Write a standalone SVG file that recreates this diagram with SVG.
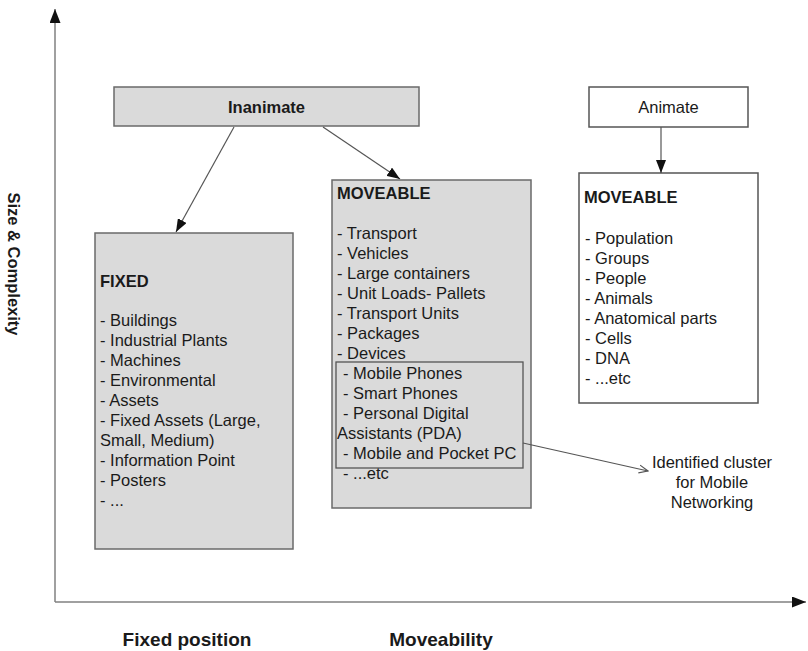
<svg xmlns="http://www.w3.org/2000/svg" width="808" height="651" viewBox="0 0 808 651">
<defs>
<style>
text{font-family:"Liberation Sans",Arial,sans-serif;fill:#1a1a1a;font-size:16.5px}
.b{font-weight:bold}
.grey{fill:#dadada;stroke:#6a6a6a;stroke-width:1.5}
.white{fill:#ffffff;stroke:#555;stroke-width:1.5}
.axis{stroke:#808080;stroke-width:1.5;fill:none}
.conn{stroke:#555;stroke-width:1.2;fill:none}
.mid{text-anchor:middle}
</style>
<marker id="ah" markerUnits="userSpaceOnUse" markerWidth="14" markerHeight="10" refX="13" refY="5" orient="auto">
<path d="M0,0 L13,5 L0,10 z" fill="#111"/>
</marker>
<marker id="axh" markerUnits="userSpaceOnUse" markerWidth="15" markerHeight="11" refX="14" refY="5.5" orient="auto">
<path d="M0,0 L14,5.5 L0,11 z" fill="#111"/>
</marker>
<marker id="open" markerUnits="userSpaceOnUse" markerWidth="10" markerHeight="10" refX="9" refY="5" orient="auto">
<path d="M0,1 L9,5 L0,9" fill="none" stroke="#555" stroke-width="1.2"/>
</marker>
</defs>

<g id="axes">
<line class="axis" x1="55" y1="602" x2="55" y2="9" marker-end="url(#axh)"/>
<line class="axis" x1="55" y1="602" x2="806" y2="602" marker-end="url(#axh)"/>
</g>

<g id="axis-labels">
<text class="b mid" transform="translate(8,264) rotate(90)">Size &amp; Complexity</text>
<text class="b mid" x="187" y="646" style="font-size:19px">Fixed position</text>
<text class="b mid" x="441" y="646" style="font-size:19px">Moveability</text>
</g>

<g id="inanimate">
<rect class="grey" x="114" y="87" width="305" height="39"/>
<text class="b mid" x="266.5" y="113">Inanimate</text>
</g>

<g id="animate">
<rect class="white" x="589" y="87" width="159" height="40"/>
<text class="mid" x="668.5" y="113">Animate</text>
</g>

<g id="fixed">
<rect class="grey" x="95" y="233" width="198" height="316"/>
<text class="b" x="100" y="287">FIXED</text>
<text x="100" y="326">- Buildings</text>
<text x="100" y="346">- Industrial Plants</text>
<text x="100" y="366">- Machines</text>
<text x="100" y="386">- Environmental</text>
<text x="100" y="406">- Assets</text>
<text x="100" y="426">- Fixed Assets (Large,</text>
<text x="100" y="446">Small, Medium)</text>
<text x="100" y="466">- Information Point</text>
<text x="100" y="486">- Posters</text>
<text x="100" y="506">- ...</text>
</g>

<g id="moveable-inanimate">
<rect class="grey" x="332" y="180" width="199" height="328"/>
<text class="b" x="337" y="199">MOVEABLE</text>
<text x="337" y="239">- Transport</text>
<text x="337" y="259">- Vehicles</text>
<text x="337" y="279">- Large containers</text>
<text x="337" y="299">- Unit Loads- Pallets</text>
<text x="337" y="319">- Transport Units</text>
<text x="337" y="339">- Packages</text>
<text x="337" y="359">- Devices</text>
<text x="343" y="479">- ...etc</text>
</g>

<g id="mobile-cluster">
<rect x="336" y="362" width="187" height="106" fill="none" stroke="#555" stroke-width="1.3"/>
<text x="343" y="379">- Mobile Phones</text>
<text x="343" y="399">- Smart Phones</text>
<text x="343" y="419">- Personal Digital</text>
<text x="337" y="439">Assistants (PDA)</text>
<text x="343" y="459">- Mobile and Pocket PC</text>
</g>

<g id="moveable-animate">
<rect class="white" x="579" y="173" width="179" height="230"/>
<text class="b" x="584" y="203">MOVEABLE</text>
<text x="585" y="244">- Population</text>
<text x="585" y="264">- Groups</text>
<text x="585" y="284">- People</text>
<text x="585" y="304">- Animals</text>
<text x="585" y="324">- Anatomical parts</text>
<text x="585" y="344">- Cells</text>
<text x="585" y="364">- DNA</text>
<text x="585" y="384">- ...etc</text>
</g>

<g id="cluster-label">
<text class="mid" x="712" y="468">Identified cluster</text>
<text class="mid" x="712" y="488">for Mobile</text>
<text class="mid" x="712" y="508">Networking</text>
</g>

<g id="connectors">
<line class="conn" x1="234" y1="127" x2="176" y2="232" marker-end="url(#ah)"/>
<line class="conn" x1="323" y1="127" x2="400" y2="179" marker-end="url(#ah)"/>
<line class="conn" x1="661" y1="127" x2="661" y2="173" marker-end="url(#ah)"/>
<line class="conn" x1="523" y1="443" x2="648" y2="471" marker-end="url(#open)"/>
</g>
</svg>
